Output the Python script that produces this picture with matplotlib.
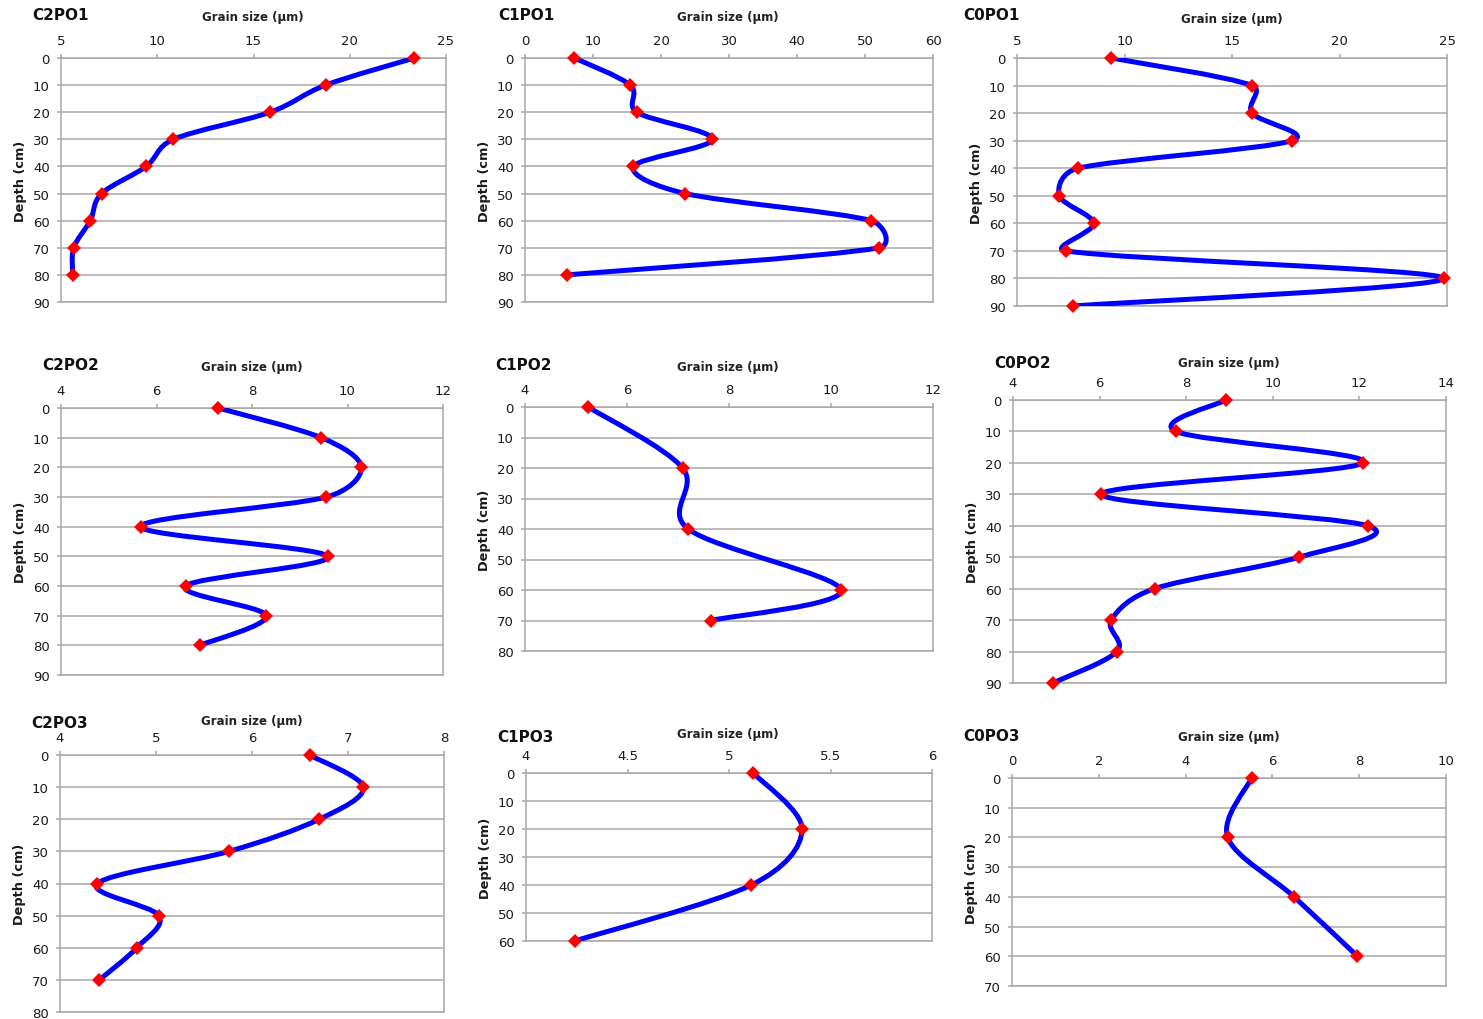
import numpy as np
import matplotlib
matplotlib.use("Agg")
import matplotlib.pyplot as plt
from matplotlib.path import Path
from matplotlib.patches import PathPatch
from matplotlib.ticker import StrMethodFormatter, MultipleLocator

W, H = 1483, 1020

# ---------- data (grain size in um vs depth in cm) ----------
depth_c2po1 = [0, 10, 20, 30, 40, 50, 60, 70, 80]
size_c2po1 = [23.36, 18.75, 15.86, 10.84, 9.42, 7.11, 6.52, 5.66, 5.61]

depth_c1po1 = [0, 10, 20, 30, 40, 50, 60, 70, 80]
size_c1po1 = [7.26, 15.46, 16.44, 27.57, 15.95, 23.6, 50.9, 52.06, 6.13]

depth_c0po1 = [0, 10, 20, 30, 40, 50, 60, 70, 80, 90]
size_c0po1 = [9.39, 15.93, 15.93, 17.79, 7.84, 6.97, 8.57, 7.28, 24.84, 7.60]

depth_c2po2 = [0, 10, 20, 30, 40, 50, 60, 70, 80]
size_c2po2 = [7.29, 9.45, 10.29, 9.56, 5.67, 9.59, 6.61, 8.30, 6.91]

depth_c1po2 = [0, 20, 40, 60, 70]
size_c1po2 = [5.24, 7.09, 7.20, 10.20, 7.64]

depth_c0po2 = [0, 10, 20, 30, 40, 50, 60, 70, 80, 90]
size_c0po2 = [8.92, 7.76, 12.09, 6.04, 12.19, 10.60, 7.27, 6.27, 6.40, 4.92]

depth_c2po3 = [0, 10, 20, 30, 40, 50, 60, 70]
size_c2po3 = [6.60, 7.16, 6.70, 5.76, 4.39, 5.03, 4.80, 4.41]

depth_c1po3 = [0, 20, 40, 60]
size_c1po3 = [5.12, 5.36, 5.11, 4.24]

depth_c0po3 = [0, 20, 40, 60]
size_c0po3 = [5.52, 4.97, 6.50, 7.96]

names = ["C2PO1", "C1PO1", "C0PO1",
         "C2PO2", "C1PO2", "C0PO2",
         "C2PO3", "C1PO3", "C0PO3"]
depths = [depth_c2po1, depth_c1po1, depth_c0po1,
          depth_c2po2, depth_c1po2, depth_c0po2,
          depth_c2po3, depth_c1po3, depth_c0po3]
sizes = [size_c2po1, size_c1po1, size_c0po1,
         size_c2po2, size_c1po2, size_c0po2,
         size_c2po3, size_c1po3, size_c0po3]
x_ranges = [(5, 25, 5), (0, 60, 10), (5, 25, 5),
            (4, 12, 2), (4, 12, 2), (4, 14, 2),
            (4, 8, 1), (4, 6, 0.5), (0, 10, 2)]
depth_max = [90, 90, 90, 90, 80, 90, 80, 60, 70]

# ---------- layout (pixels) ----------
# axes box (x0, y0, x1, y1), panel name (left, y), x label (centre, y)
boxes = [(61, 59, 446, 303), (525, 59, 933, 303), (1017, 59, 1447, 307),
         (61, 409, 443, 676), (525, 408, 933, 652), (1013, 401, 1446, 684),
         (60, 756, 444, 1013), (526, 774, 932, 942), (1012, 779, 1446, 987)]
name_pos = [(32, 15), (498, 15), (963, 16),
            (42, 365), (495, 365), (994, 364),
            (31, 723), (497, 738), (963, 737)]
xlab_pos = [(253, 18), (728, 18), (1232, 19),
            (252, 368), (728, 367), (1229, 363),
            (252, 722), (728, 735), (1229, 738)]

GRID = "#a8a8a8"
TXT = "#1a1a1a"


def smooth_path(ax, x, y):
    # Excel-like smoothed line: Catmull-Rom bezier in screen space, with each
    # control arm capped at half the segment length.
    pts = ax.transData.transform(np.column_stack([x, y]).astype(float))
    ext = np.vstack([pts[0], pts, pts[-1]])
    verts = [pts[0]]
    codes = [Path.MOVETO]
    for i in range(len(pts) - 1):
        p0, p1, p2, p3 = ext[i], ext[i + 1], ext[i + 2], ext[i + 3]
        d12 = np.hypot(*(p2 - p1))
        a = (p2 - p0) / 6
        b = (p3 - p1) / 6
        la, lb = np.hypot(*a), np.hypot(*b)
        if la > d12 / 2:
            a = a * (d12 / 2) / la
        if lb > d12 / 2:
            b = b * (d12 / 2) / lb
        verts += [p1 + a, p2 - b, p2]
        codes += [Path.CURVE4] * 3
    verts = ax.transData.inverted().transform(np.array(verts))
    return Path(verts, codes)


fig = plt.figure(figsize=(W / 100, H / 100), dpi=100)

for i in range(9):
    x0, y0, x1, y1 = boxes[i]
    ax = fig.add_axes([x0 / W, 1 - y1 / H, (x1 - x0) / W, (y1 - y0) / H])
    lo, hi, step = x_ranges[i]
    ax.set_xlim(lo, hi)
    ax.set_ylim(depth_max[i], 0)
    ax.xaxis.set_major_locator(MultipleLocator(step))
    ax.xaxis.set_major_formatter(StrMethodFormatter("{x:g}"))
    ax.yaxis.set_major_locator(MultipleLocator(10))
    ax.xaxis.tick_top()
    ax.tick_params(axis="both", labelsize=9.5, colors=GRID, labelcolor=TXT,
                   length=3, width=1.1, pad=5)
    ax.yaxis.grid(True, color=GRID, linewidth=1.1)
    ax.set_axisbelow(True)
    for sp in ax.spines.values():
        sp.set_color(GRID)
        sp.set_linewidth(1.1)

    ax.add_patch(PathPatch(smooth_path(ax, sizes[i], depths[i]),
                           facecolor="none", edgecolor="#0000ff",
                           linewidth=3.6, capstyle="round",
                           joinstyle="round", zorder=3))
    ax.plot(sizes[i], depths[i], linestyle="none", marker="D", markersize=7.5,
            color="#ff0000", markeredgewidth=0, zorder=4, clip_on=False)

    ax.set_ylabel("Depth (cm)", fontsize=9.3, fontweight="bold", color=TXT,
                  labelpad=4)

    nx, ny = name_pos[i]
    fig.text(nx / W, 1 - ny / H, names[i], fontsize=11, fontweight="bold",
             ha="left", va="center", color="#111111")
    lx, ly = xlab_pos[i]
    fig.text(lx / W, 1 - ly / H, "Grain size (\u03bcm)", fontsize=8.5,
             fontweight="bold", ha="center", va="center", color="#222222")

fig.savefig("out.png", dpi=100, facecolor="white")
